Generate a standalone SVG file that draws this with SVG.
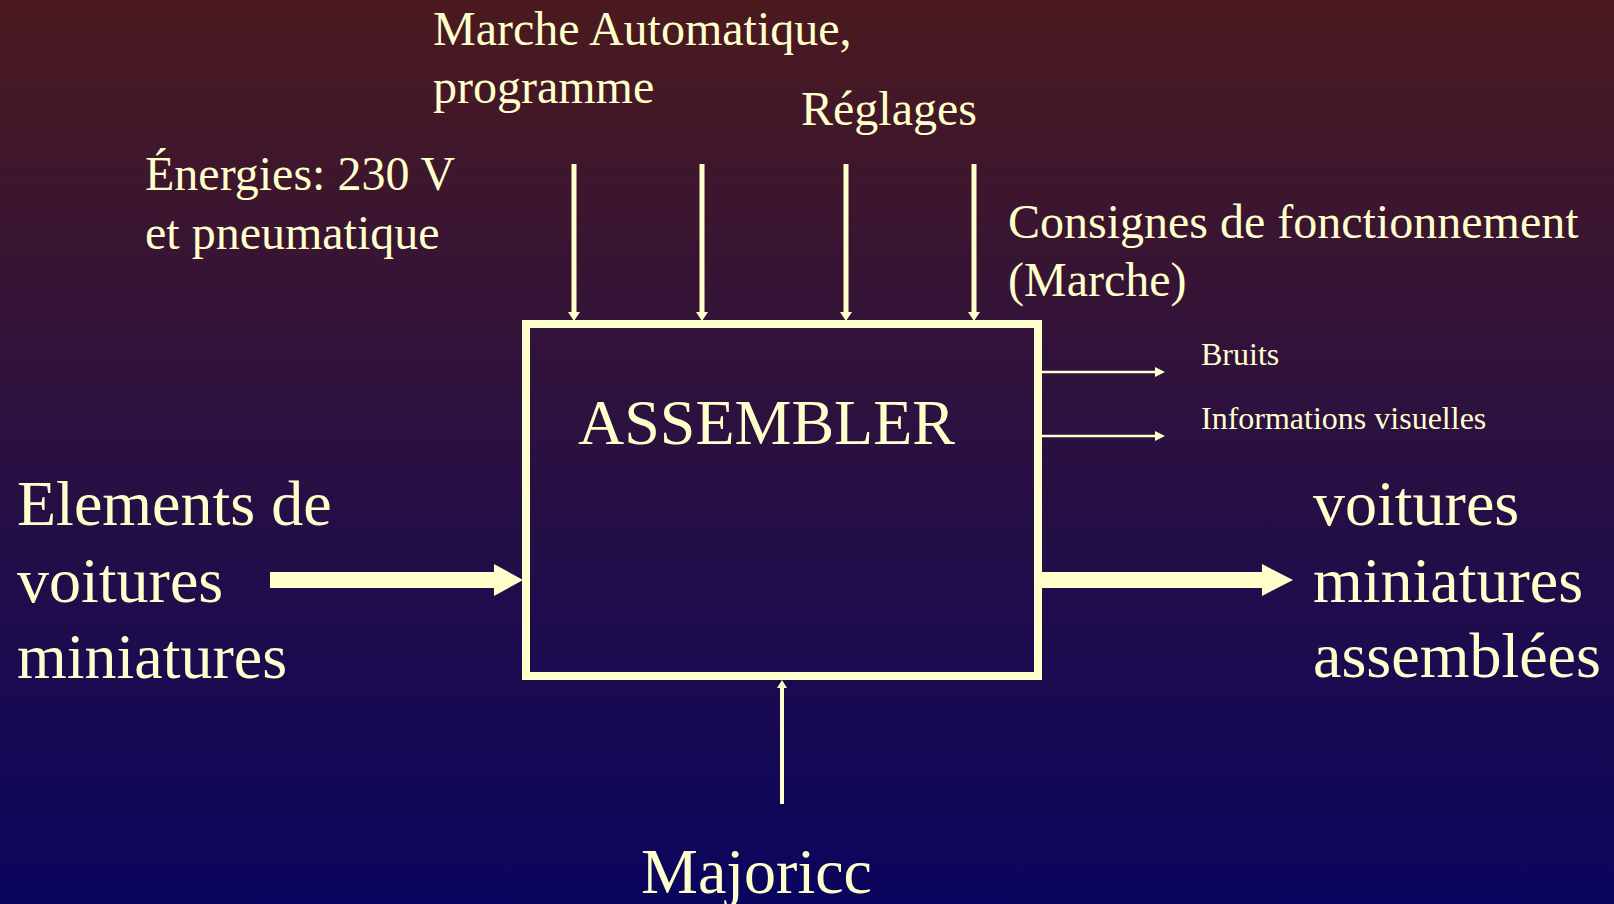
<svg xmlns="http://www.w3.org/2000/svg" width="1614" height="904" viewBox="0 0 1614 904">
<defs>
<linearGradient id="bg" x1="0" y1="0" x2="0" y2="1">
<stop offset="0" stop-color="#4b1a1f"/>
<stop offset="0.5" stop-color="#2a1042"/>
<stop offset="1" stop-color="#0a055e"/>
</linearGradient>
</defs>
<style>
text{font-family:"Liberation Serif","Times New Roman",serif;fill:#ffffcc}
.m{font-size:48px}
.s{font-size:32px}
.l{font-size:64px}
.ln{stroke:#ffffcc;fill:none}
.hd{fill:#ffffcc}
</style>
<rect width="1614" height="904" fill="url(#bg)"/>
<g id="box">
<rect x="526" y="324" width="512" height="352" fill="none" stroke="#ffffcc" stroke-width="8"/>
<text class="l" x="578" y="444">ASSEMBLER</text>
</g>
<g id="controls">
<text class="m" x="433" y="45">Marche Automatique,</text>
<text class="m" x="433" y="103">programme</text>
<text class="m" x="801" y="125">Réglages</text>
<text class="m" x="145" y="190">Énergies: 230 V</text>
<text class="m" x="145" y="249">et pneumatique</text>
<text class="m" x="1008" y="238">Consignes de fonctionnement</text>
<text class="m" x="1008" y="296">(Marche)</text>
</g>
<g id="input">
<text class="l" x="17" y="525">Elements de</text>
<text class="l" x="17" y="602">voitures</text>
<text class="l" x="17" y="678">miniatures</text>
</g>
<g id="output">
<text class="l" x="1313" y="525">voitures</text>
<text class="l" x="1313" y="602">miniatures</text>
<text class="l" x="1313" y="677">assemblées</text>
</g>
<g id="side-outputs">
<text class="s" x="1201" y="365">Bruits</text>
<text class="s" x="1201" y="429">Informations visuelles</text>
</g>
<g id="support">
<text class="l" x="641" y="893">Majoricc</text>
</g>
<g id="connectors">
<line class="ln" x1="574" y1="164" x2="574" y2="313" stroke-width="5"/>
<polygon class="hd" points="568,312 580,312 574,321"/>
<line class="ln" x1="702" y1="164" x2="702" y2="313" stroke-width="5"/>
<polygon class="hd" points="696,312 708,312 702,321"/>
<line class="ln" x1="846" y1="164" x2="846" y2="313" stroke-width="5"/>
<polygon class="hd" points="840,312 852,312 846,321"/>
<line class="ln" x1="974" y1="164" x2="974" y2="313" stroke-width="5"/>
<polygon class="hd" points="968,312 980,312 974,321"/>
<line class="ln" x1="1042" y1="372" x2="1156" y2="372" stroke-width="2.5"/>
<polygon class="hd" points="1155,367 1165,372 1155,377"/>
<line class="ln" x1="1042" y1="436" x2="1156" y2="436" stroke-width="2.5"/>
<polygon class="hd" points="1155,431 1165,436 1155,441"/>
<rect class="hd" x="270" y="572" width="225" height="16"/>
<polygon class="hd" points="494,564 523,580 494,596"/>
<rect class="hd" x="1042" y="572" width="221" height="16"/>
<polygon class="hd" points="1262,564 1293,580 1262,596"/>
<line class="ln" x1="782" y1="804" x2="782" y2="687" stroke-width="4"/>
<polygon class="hd" points="777,688 787,688 782,680"/>
</g>
</svg>
